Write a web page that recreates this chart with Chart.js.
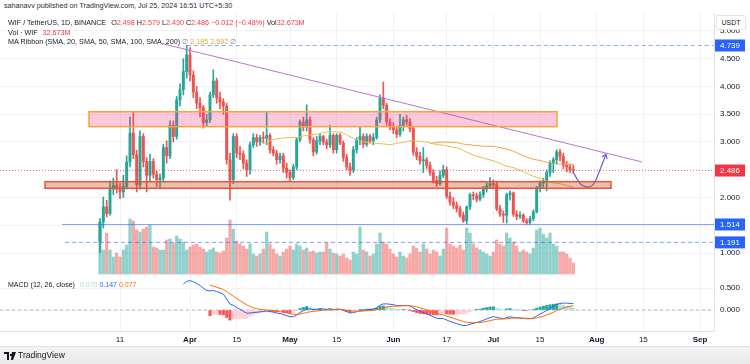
<!DOCTYPE html>
<html>
<head>
<meta charset="utf-8">
<title>WIF / TetherUS 1D</title>
<script src="https://cdn.jsdelivr.net/npm/chart.js@4.4.1/dist/chart.umd.min.js"></script>
<style>
  html, body { margin: 0; padding: 0; }
  body { width: 750px; height: 364px; overflow: hidden; background: #fff; position: relative;
         font-family: "Liberation Sans", Arial, sans-serif; color: #131722; }
  canvas { position: absolute; left: 0; }
  #main { top: 13px; }
  #macd { top: 276px; }
  .txt { position: absolute; white-space: nowrap; font-size: 7.2px; line-height: 10px; }
  #hdr { left: 4px; top: 1px; color: #2a2e39; font-size: 7.2px; }
  #l1 { left: 8px; top: 18px; }
  #l2 { left: 8px; top: 28px; }
  #l3 { left: 8px; top: 37px; }
  #lm { left: 8px; top: 280px; font-size: 7px; }
  .red { color: #f23645; }
  .sep { display: inline-block; width: 5px; }
  #usdt { position: absolute; left: 716px; top: 15px; width: 28px; height: 13px; background: #fff;
          border: 1px solid #e0e3eb; border-radius: 2px; font-size: 7px; text-align: center; line-height: 13px; }
  #rule { position: absolute; left: 0; top: 346px; width: 750px; height: 1px; background: #e0e3eb; }
  #foot { position: absolute; left: 0; top: 347px; width: 750px; height: 17px; background: linear-gradient(#f4f4f4, #e8e8e8); }
  #tv { position: absolute; left: 4px; top: 350px; font-size: 8.5px; line-height: 11px; color: #131722; }
  #tv svg { vertical-align: middle; margin-right: 2px; }
</style>
</head>
<body>
<canvas id="main" width="750" height="263"></canvas>
<canvas id="macd" width="750" height="70"></canvas>

<div class="txt" id="hdr">sahanavv published on TradingView.com, Jul 25, 2024 16:51 UTC+5:30</div>
<div class="txt" id="l1">WIF / TetherUS, 1D, BINANCE<span class="sep"></span>O<span class="red">2.498</span> H<span class="red">2.579</span> L<span class="red">2.430</span> C<span class="red">2.486</span> <span class="red">−0.012 (−0.48%)</span> Vol<span class="red">32.673M</span></div>
<div class="txt" id="l2">Vol · WIF<span class="sep"></span><span class="red">32.673M</span></div>
<div class="txt" id="l3">MA Ribbon (SMA, 20, SMA, 50, SMA, 100, SMA, 200) <span style="color:#787b86">∅</span> <span style="color:#c9b52c">2.185</span> <span style="color:#f0a030">2.592</span> <span style="color:#787b86">∅</span></div>
<div class="txt" id="lm">MACD (12, 26, close)<span class="sep"></span><span style="color:#a9dad4">0.070</span> <span style="color:#2962ff">0.147</span> <span style="color:#ff6d00">0.077</span></div>
<div id="usdt">USDT</div>
<div id="rule"></div>
<div id="foot"></div>
<div id="tv"><svg width="12" height="8" viewBox="0 0 12 8"><path d="M0 0h5v8H3V2H0z M6 2h2v2H6z M8 0h4L9 8H7z" fill="#131722"/></svg>TradingView</div>

<script>
// daily candles, WIF/USDT Binance, first candle 5 Mar 2024 (day 4 counted from 1 Mar)
const firstDay = 4;
const opens = [
  1.20, 1.56, 1.83, 1.71, 2.15, 2.22, 2.15, 2.10, 2.20, 2.64,
  3.16, 2.77, 2.23, 3.10, 2.65, 2.40, 2.65, 2.42, 2.32, 2.35,
  2.90, 2.75, 3.30, 3.10, 3.76, 3.94, 4.27, 4.57, 4.21, 3.90,
  3.70, 3.62, 3.35, 3.40, 3.85, 4.10, 3.80, 3.72, 3.65, 2.68,
  2.32, 3.10, 2.80, 2.78, 2.62, 2.50, 2.95, 3.08, 3.00, 3.08,
  3.07, 3.12, 2.86, 2.80, 2.68, 2.75, 2.53, 2.45, 2.36, 2.55,
  3.04, 3.36, 3.27, 3.40, 3.04, 2.82, 3.02, 3.10, 3.00, 2.95,
  3.12, 2.86, 3.12, 2.98, 2.72, 2.55, 2.50, 2.86, 3.03, 3.10,
  2.96, 3.10, 3.02, 3.08, 3.40, 3.79, 3.66, 3.36, 3.28, 3.22,
  3.14, 3.30, 3.40, 3.36, 3.24, 2.82, 2.74, 2.66, 2.68, 2.58,
  2.45, 2.31, 2.25, 2.40, 2.50, 2.02, 1.92, 1.86, 1.80, 1.68,
  1.58, 1.83, 2.05, 2.03, 1.97, 2.05, 2.15, 2.21, 2.25, 2.23,
  1.80, 1.70, 1.68, 2.05, 2.08, 1.70, 1.66, 1.68, 1.58, 1.55,
  1.62, 1.74, 2.17, 2.26, 2.30, 2.45, 2.62, 2.68, 2.82, 2.74,
  2.58, 2.55, 2.498
];
const highs = [
  1.62, 2.01, 1.95, 2.30, 2.35, 2.50, 2.25, 2.40, 2.75, 3.45,
  3.55, 2.85, 3.20, 3.15, 2.72, 2.78, 2.70, 2.48, 2.42, 2.96,
  3.02, 3.38, 3.38, 3.82, 4.05, 4.50, 4.739, 4.70, 4.28, 4.00,
  3.80, 3.66, 3.50, 3.90, 4.30, 4.15, 3.90, 3.78, 3.70, 2.80,
  3.15, 3.15, 2.92, 2.84, 2.68, 3.00, 3.15, 3.14, 3.12, 3.18,
  3.55, 3.15, 2.92, 2.85, 2.80, 2.80, 2.62, 2.50, 2.60, 3.08,
  3.40, 3.45, 3.67, 3.45, 3.08, 3.10, 3.15, 3.12, 3.05, 3.30,
  3.15, 3.15, 3.15, 3.02, 2.78, 2.62, 2.92, 3.08, 3.27, 3.15,
  3.15, 3.14, 3.15, 3.45, 3.85, 4.08, 3.70, 3.42, 3.35, 3.28,
  3.50, 3.45, 3.48, 3.42, 3.28, 2.90, 2.82, 2.90, 2.72, 2.64,
  2.50, 2.38, 2.48, 2.58, 2.55, 2.10, 2.00, 1.92, 1.84, 1.74,
  1.85, 2.08, 2.10, 2.08, 2.10, 2.20, 2.26, 2.36, 2.32, 2.27,
  1.86, 1.76, 2.08, 2.12, 2.10, 1.76, 1.74, 1.71, 1.62, 1.66,
  1.78, 2.20, 2.30, 2.35, 2.50, 2.66, 2.72, 2.86, 2.87, 2.80,
  2.65, 2.60, 2.579
];
const lows = [
  1.00, 1.45, 1.65, 1.68, 2.05, 2.08, 1.98, 2.00, 2.15, 2.55,
  2.70, 2.10, 2.15, 2.55, 2.10, 2.28, 2.35, 2.20, 2.18, 2.30,
  2.62, 2.70, 3.00, 3.05, 3.65, 3.85, 4.15, 4.10, 3.80, 3.60,
  3.45, 3.25, 3.28, 3.35, 3.80, 3.70, 3.60, 3.50, 2.60, 1.95,
  2.25, 2.72, 2.68, 2.52, 2.38, 2.42, 2.90, 2.92, 2.94, 2.98,
  2.95, 2.80, 2.75, 2.60, 2.62, 2.45, 2.35, 2.30, 2.32, 2.50,
  3.00, 3.20, 3.20, 2.98, 2.75, 2.78, 2.95, 2.95, 2.88, 2.90,
  2.80, 2.80, 2.95, 2.65, 2.50, 2.40, 2.45, 2.80, 2.95, 2.90,
  2.92, 2.98, 2.95, 3.05, 3.35, 3.60, 3.30, 3.22, 3.15, 3.08,
  3.10, 3.20, 3.30, 3.18, 2.76, 2.68, 2.60, 2.45, 2.52, 2.40,
  2.26, 2.20, 2.22, 2.36, 1.98, 1.86, 1.80, 1.74, 1.64, 1.55,
  1.53, 1.78, 1.96, 1.92, 1.94, 2.00, 2.10, 2.16, 2.18, 1.76,
  1.66, 1.55, 1.54, 1.95, 1.66, 1.60, 1.62, 1.55, 1.52, 1.52,
  1.58, 1.72, 2.10, 2.18, 2.12, 2.38, 2.45, 2.60, 2.66, 2.52,
  2.46, 2.45, 2.430
];
const closes = [
  1.56, 1.83, 1.71, 2.15, 2.22, 2.15, 2.10, 2.20, 2.64, 3.16,
  2.77, 2.23, 3.10, 2.65, 2.40, 2.65, 2.42, 2.32, 2.35, 2.90,
  2.75, 3.30, 3.10, 3.76, 3.94, 4.27, 4.57, 4.21, 3.90, 3.70,
  3.62, 3.35, 3.40, 3.85, 4.10, 3.80, 3.72, 3.65, 2.68, 2.32,
  3.10, 2.80, 2.78, 2.62, 2.50, 2.95, 3.08, 3.00, 3.08, 3.07,
  3.12, 2.86, 2.80, 2.68, 2.75, 2.53, 2.45, 2.36, 2.55, 3.04,
  3.36, 3.27, 3.40, 3.04, 2.82, 3.02, 3.10, 3.00, 2.95, 3.12,
  2.86, 3.12, 2.98, 2.72, 2.55, 2.50, 2.86, 3.03, 3.10, 2.96,
  3.10, 3.02, 3.08, 3.40, 3.79, 3.66, 3.36, 3.28, 3.22, 3.14,
  3.30, 3.40, 3.36, 3.24, 2.82, 2.74, 2.66, 2.68, 2.58, 2.45,
  2.31, 2.25, 2.40, 2.50, 2.02, 1.92, 1.86, 1.80, 1.68, 1.58,
  1.83, 2.05, 2.03, 1.97, 2.05, 2.15, 2.21, 2.25, 2.23, 1.80,
  1.70, 1.68, 2.05, 2.08, 1.70, 1.66, 1.68, 1.58, 1.55, 1.62,
  1.74, 2.17, 2.26, 2.30, 2.45, 2.62, 2.68, 2.82, 2.74, 2.58,
  2.55, 2.498, 2.486
];
// volume, millions of WIF
const volumes = [
  153, 72, 123, 72, 51, 63, 51, 72, 87, 165,
  159, 132, 126, 135, 141, 147, 81, 78, 72, 72,
  102, 105, 93, 114, 105, 96, 72, 81, 87, 90,
  81, 75, 66, 72, 78, 66, 63, 69, 108, 162,
  135, 99, 90, 84, 75, 90, 60, 54, 60, 75,
  126, 90, 75, 60, 54, 66, 75, 84, 72, 90,
  84, 72, 78, 66, 69, 63, 66, 66, 93, 75,
  63, 60, 54, 60, 48, 42, 66, 60, 141, 72,
  66, 54, 60, 90, 123, 96, 90, 75, 60, 51,
  66, 54, 48, 60, 84, 78, 66, 90, 75, 60,
  72, 66, 54, 75, 138, 90, 84, 78, 87, 72,
  138, 123, 90, 78, 72, 66, 60, 54, 66, 102,
  90, 84, 123, 108, 96, 84, 66, 72, 66, 60,
  78, 132, 138, 120, 108, 123, 90, 84, 66, 66,
  60, 48, 32.673
];

// time axis (days counted from 1 Mar 2024)
const xTickDays = [10, 31, 45, 61, 75, 92, 108, 122, 136, 153, 167, 184];
const xTickLabels = ['11', 'Apr', '15', 'May', '15', 'Jun', '17', 'Jul', '15', 'Aug', '15', 'Sep'];
const monthDays = [31, 61, 92, 122, 153, 184];
const priceTicks = [1, 1.5, 2, 2.5, 3, 3.5, 4, 4.5, 5];
const priceTicksNoLabel = [1.5, 2.5];
const macdTicks = [0, 0.5];

// drawings (day, price)
const trendLine = [[22.9, 4.77], [166.6, 2.64]];
const projection = [[145.9, 2.46], [148.2, 2.24], [150.4, 2.19], [152.4, 2.27], [154.0, 2.50], [155.8, 2.78]];
const levelPrices = [4.739, 1.514, 1.191];
const levelStarts = [30, -7.4, -6.5];
const lastPrice = 2.486;
const supplyZone = { from: 0.7, to: 141.1, low: 3.276, high: 3.546 };
const demandZone = { from: -12.5, to: 157.3, low: 2.166, high: 2.285 };

const xMin = -26, xMax = 188.2;
const days = closes.map((c, i) => firstDay + i);
const up = closes.map((c, i) => c >= opens[i]);

function sma(src, n) {
  return src.map((v, i) => {
    if (i < n - 1) return null;
    let s = 0;
    for (let k = i - n + 1; k <= i; k++) s += src[k];
    return s / n;
  });
}
function ema(src, n) {
  const out = src.map(() => null);
  const a = 2 / (n + 1);
  let seen = [], prev = null;
  src.forEach((v, i) => {
    if (v == null) return;
    if (prev == null) {
      seen.push(v);
      if (seen.length === n) { prev = seen.reduce((p, q) => p + q, 0) / n; out[i] = prev; }
    } else {
      prev = a * v + (1 - a) * prev;
      out[i] = prev;
    }
  });
  return out;
}
const sma50 = sma(closes, 50);
const sma100 = sma(closes, 100);
const ema12 = ema(closes, 12), ema26 = ema(closes, 26);
const macdLine = closes.map((c, i) => (ema26[i] == null ? null : ema12[i] - ema26[i]));
const signal = ema(macdLine, 9);
const hist = macdLine.map((m, i) => (signal[i] == null ? null : m - signal[i]));

const pts = arr => arr.map((v, i) => ({ x: days[i], y: v })).filter(p => p.y != null);
const pairs = arr => arr.map(p => ({ x: p[0], y: p[1] }));

Chart.defaults.font.family = '"Liberation Sans", Arial, sans-serif';
Chart.defaults.font.size = 8;
Chart.defaults.color = '#131722';

const gridColor = '#f0f2f6';
function xScale(showLabels) {
  return {
    type: 'linear', min: xMin, max: xMax, offset: false,
    afterBuildTicks: s => { s.ticks = xTickDays.map(v => ({ value: v })); },
    afterFit: s => { s.height = showLabels ? 15 : 0; s.paddingLeft = 0; s.paddingRight = 0; },
    grid: { color: gridColor, drawTicks: false, offset: false },
    border: { display: showLabels, color: '#e0e3eb' },
    ticks: {
      display: showLabels, padding: 4, maxRotation: 0, autoSkip: false,
      callback: v => xTickLabels[xTickDays.indexOf(v)],
      font: c => ({ size: 8, weight: c.tick && monthDays.includes(c.tick.value) ? 'bold' : 'normal' })
    }
  };
}

const up1 = '#26a69a', down1 = '#ef5350';

const overlays = {
  id: 'overlays',
  afterDatasetsDraw(chart) {
    const { ctx, scales: { x, y } } = chart;
    ctx.save();
    [[supplyZone, 'rgba(240,60,130,0.28)', '#f4a536'], [demandZone, 'rgba(200,70,40,0.35)', '#df5a32']].forEach(([z, fill, stroke]) => {
      const l = x.getPixelForValue(z.from), r = x.getPixelForValue(z.to);
      const t = y.getPixelForValue(z.high), b = y.getPixelForValue(z.low);
      ctx.fillStyle = fill; ctx.fillRect(l, t, r - l, b - t);
      ctx.strokeStyle = stroke; ctx.lineWidth = 1.5; ctx.strokeRect(l, t, r - l, b - t);
    });
    // arrow head on the projected path
    const n = projection.length;
    const ex = x.getPixelForValue(projection[n - 1][0]), ey = y.getPixelForValue(projection[n - 1][1]);
    const px = x.getPixelForValue(projection[n - 2][0]), py = y.getPixelForValue(projection[n - 2][1]);
    const ang = Math.atan2(ey - py, ex - px);
    ctx.strokeStyle = '#7e5bc6'; ctx.lineWidth = 1.2;
    ctx.beginPath();
    ctx.moveTo(ex - 5 * Math.cos(ang - 0.6), ey - 5 * Math.sin(ang - 0.6));
    ctx.lineTo(ex, ey);
    ctx.lineTo(ex - 5 * Math.cos(ang + 0.6), ey - 5 * Math.sin(ang + 0.6));
    ctx.stroke();
    ctx.restore();
  },
  afterDraw(chart) {
    const { ctx, scales: { y } } = chart;
    const badges = [[4.739, '#2962ff'], [lastPrice, '#f23645'], [1.514, '#2962ff'], [1.191, '#2962ff']];
    ctx.save();
    ctx.font = '8px "Liberation Sans", Arial, sans-serif';
    ctx.textAlign = 'center'; ctx.textBaseline = 'middle';
    badges.forEach(([v, c]) => {
      const py = y.getPixelForValue(v);
      ctx.fillStyle = c;
      ctx.fillRect(715, py - 6, 30, 12);
      ctx.fillStyle = '#fff';
      ctx.fillText(v.toFixed(3), 730, py + 0.5);
    });
    ctx.restore();
  }
};

const hLine = (yv, from, color, dash, order) => ({
  type: 'line', data: [{ x: from, y: yv }, { x: xMax, y: yv }], borderColor: color, borderWidth: 1,
  borderDash: dash, pointRadius: 0, order: order
});

new Chart(document.getElementById('main'), {
  data: {
    datasets: [
      { type: 'bar', yAxisID: 'yv', order: 20, grouped: false, barThickness: 2.6,
        data: volumes.map((v, i) => ({ x: days[i], y: v })),
        backgroundColor: up.map(u => (u ? 'rgba(38,166,154,0.5)' : 'rgba(239,83,80,0.5)')) },
      { type: 'bar', order: 6, grouped: false, barThickness: 1,
        data: highs.map((h, i) => ({ x: days[i], y: [lows[i], h] })),
        backgroundColor: up.map(u => (u ? up1 : down1)) },
      { type: 'bar', order: 5, grouped: false, barThickness: 2.3, minBarLength: 1,
        data: opens.map((o, i) => ({ x: days[i], y: [o, closes[i]] })),
        backgroundColor: up.map(u => (u ? up1 : down1)) },
      { type: 'line', order: 4, data: pts(sma50), borderColor: '#ebbd48', borderWidth: 1, pointRadius: 0 },
      { type: 'line', order: 4, data: pts(sma100), borderColor: '#f0a340', borderWidth: 1, pointRadius: 0 },
      hLine(levelPrices[0], levelStarts[0], 'rgba(41,98,255,0.55)', [4, 3], 3),
      hLine(levelPrices[1], levelStarts[1], 'rgba(41,98,255,0.6)', [], 3),
      hLine(levelPrices[2], levelStarts[2], 'rgba(41,98,255,0.6)', [4, 3], 3),
      hLine(lastPrice, xMin, 'rgba(242,54,69,0.7)', [1, 2], 3),
      { type: 'line', order: 2, data: pairs(trendLine), borderColor: '#bb73d6', borderWidth: 1, pointRadius: 0 },
      { type: 'line', order: 1, data: pairs(projection), borderColor: '#7e5bc6', borderWidth: 1.2, pointRadius: 0,
        cubicInterpolationMode: 'monotone' }
    ]
  },
  options: {
    responsive: false, animation: false, devicePixelRatio: 1,
    layout: { padding: 0 },
    plugins: { legend: { display: false }, tooltip: { enabled: false } },
    scales: {
      x: xScale(false),
      y: {
        position: 'right', min: 0.5856, max: 5.3243,
        afterBuildTicks: s => { s.ticks = priceTicks.map(v => ({ value: v })); },
        afterFit: s => { s.width = 36; s.paddingTop = 0; s.paddingBottom = 0; },
        grid: { color: gridColor, drawTicks: false },
        border: { color: '#e0e3eb' },
        ticks: { padding: 6, callback: v => (priceTicksNoLabel.includes(v) ? '' : v.toFixed(3)) }
      },
      yv: { display: false, min: -6, max: 783 }
    }
  },
  plugins: [overlays]
});

new Chart(document.getElementById('macd'), {
  data: {
    datasets: [
      { type: 'bar', order: 5, grouped: false, barThickness: 2.4,
        data: pts(hist),
        backgroundColor: hist.filter(h => h != null).map((h, i, a) => {
          const prev = i > 0 ? a[i - 1] : 0;
          if (h >= 0) return h > prev ? '#26a69a' : '#b2dfdb';
          return h < prev ? '#ff5252' : '#ffcdd2';
        }) },
      hLine(0, xMin, '#b2b5be', [3, 3], 6),
      { type: 'line', order: 2, data: pts(macdLine), borderColor: '#2962ff', borderWidth: 1, pointRadius: 0 },
      { type: 'line', order: 1, data: pts(signal), borderColor: '#ff6d00', borderWidth: 1, pointRadius: 0 }
    ]
  },
  options: {
    responsive: false, animation: false, devicePixelRatio: 1,
    layout: { padding: 0 },
    plugins: { legend: { display: false }, tooltip: { enabled: false } },
    scales: {
      x: xScale(true),
      y: {
        position: 'right', min: -0.477, max: 0.773,
        afterBuildTicks: s => { s.ticks = macdTicks.map(v => ({ value: v })); },
        afterFit: s => { s.width = 36; s.paddingTop = 0; s.paddingBottom = 0; },
        grid: { color: gridColor, drawTicks: false },
        border: { color: '#e0e3eb' },
        ticks: { padding: 6, callback: v => v.toFixed(3) }
      }
    }
  }
});
</script>
</body>
</html>
